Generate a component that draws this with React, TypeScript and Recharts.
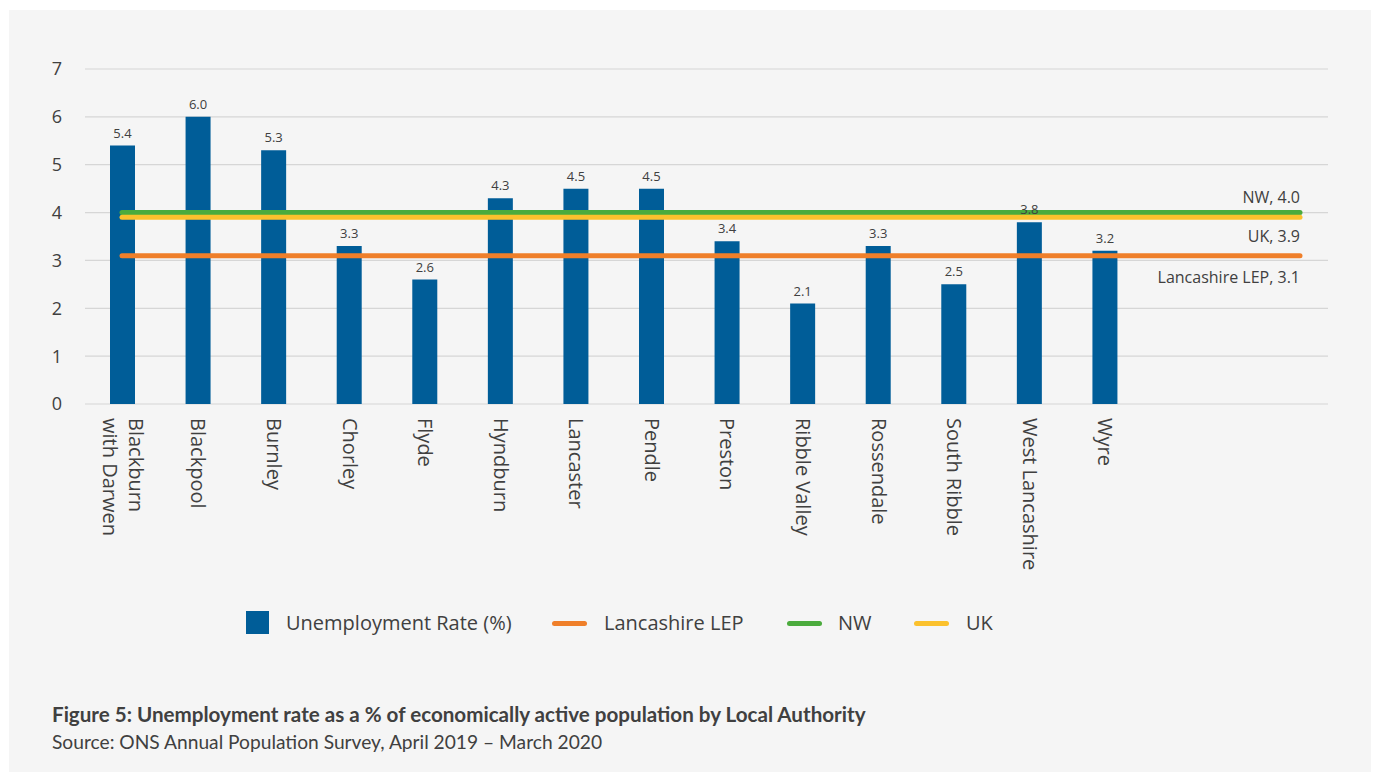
import React from 'react';
import {
  ComposedChart,
  Bar,
  Line,
  XAxis,
  YAxis,
  CartesianGrid,
  LabelList,
} from 'recharts';

const authorities = [
  'Blackburn with Darwen',
  'Blackpool',
  'Burnley',
  'Chorley',
  'Flyde',
  'Hyndburn',
  'Lancaster',
  'Pendle',
  'Preston',
  'Ribble Valley',
  'Rossendale',
  'South Ribble',
  'West Lancashire',
  'Wyre',
];

const unemploymentRate = [5.4, 6.0, 5.3, 3.3, 2.6, 4.3, 4.5, 4.5, 3.4, 2.1, 3.3, 2.5, 3.8, 3.2];

const yTicks = [0, 1, 2, 3, 4, 5, 6, 7];

// benchmark rates drawn as flat lines across the chart
const lepRate = 3.1;
const nwRate = 4.0;
const ukRate = 3.9;

const barData = authorities.map((name, i) => ({ name, rate: unemploymentRate[i] }));
const flat = (v: number) => [
  { t: 0, v },
  { t: 1, v },
];

const TEXT = '#404040';
const FONT = '"Open Sans", sans-serif';
const BLUE = '#005d98';
const ORANGE = '#ef7f2a';
const GREEN = '#4bab3d';
const YELLOW = '#fbc12d';

const CategoryTick = (props: any) => {
  const { x, y, payload } = props;
  const label: string = payload.value;
  const lines = label === 'Blackburn with Darwen' ? ['Blackburn', 'with Darwen'] : [label];
  const fs = 20;
  const step = 26;
  const y0 = y + 6;
  return (
    <g>
      {lines.map((ln, i) => {
        // positive dy moves the rotated line to the left
        const shiftLeft = (i - (lines.length - 1) / 2) * step;
        return (
          <text
            key={ln}
            x={x}
            y={y0}
            dy={fs * 0.35 + shiftLeft}
            transform={`rotate(90, ${x}, ${y0})`}
            textAnchor="start"
            fill={TEXT}
            fontSize={fs}
            fontFamily={FONT}
          >
            {ln}
          </text>
        );
      })}
    </g>
  );
};

const endLabel = (text: string, dy: number) => (props: any) => {
  const { x, y, index } = props;
  if (index !== 1) return null;
  return (
    <text x={x} y={y + dy} textAnchor="end" fill={TEXT} fontSize={16} fontFamily={FONT}>
      {text}
    </text>
  );
};

const legendItems = [
  { label: 'Unemployment Rate (%)', color: BLUE, kind: 'box', x: 246, tx: 286 },
  { label: 'Lancashire LEP', color: ORANGE, kind: 'line', x: 552, tx: 604 },
  { label: 'NW', color: GREEN, kind: 'line', x: 787, tx: 838 },
  { label: 'UK', color: YELLOW, kind: 'line', x: 914, tx: 966 },
];

export default function App() {
  return (
    <div style={{ position: 'absolute', left: 0, top: 0, width: 1379, height: 772, background: '#fff' }}>
      <div
        style={{
          position: 'absolute',
          left: 9,
          top: 10,
          width: 1362,
          height: 762,
          background: '#f5f5f5',
        }}
      />
      <div style={{ position: 'absolute', left: 0, top: 0 }}>
        <ComposedChart
          width={1379}
          height={600}
          data={barData}
          margin={{ top: 69, right: 51, left: 40, bottom: 0 }}
        >
          <CartesianGrid vertical={false} stroke="#d6d6d6" strokeWidth={1.2} />
          <XAxis
            dataKey="name"
            interval={0}
            height={196}
            axisLine={false}
            tickLine={false}
            padding={{ left: 0, right: 185 }}
            tick={<CategoryTick />}
          />
          <XAxis xAxisId="ref" type="number" dataKey="t" domain={[0, 1]} hide padding={{ left: 37, right: 28 }} />
          <YAxis
            domain={[0, 7]}
            ticks={yTicks}
            width={45}
            axisLine={false}
            tickLine={false}
            tickSize={0}
            tickMargin={23}
            tick={{ fill: TEXT, fontSize: 18, fontFamily: FONT }}
          />
          <Bar dataKey="rate" fill={BLUE} barSize={25} isAnimationActive={false}>
            <LabelList
              dataKey="rate"
              position="top"
              offset={8}
              formatter={(v: any) => Number(v).toFixed(1)}
              style={{ fill: TEXT, fontSize: 13, fontFamily: FONT }}
            />
          </Bar>
          <Line
            xAxisId="ref"
            data={flat(lepRate)}
            dataKey="v"
            stroke={ORANGE}
            strokeWidth={5}
            strokeLinecap="round"
            dot={false}
            activeDot={false}
            isAnimationActive={false}
            label={endLabel(`Lancashire LEP, ${lepRate.toFixed(1)}`, 27)}
          />
          <Line
            xAxisId="ref"
            data={flat(nwRate)}
            dataKey="v"
            stroke={GREEN}
            strokeWidth={5}
            strokeLinecap="round"
            dot={false}
            activeDot={false}
            isAnimationActive={false}
            label={endLabel(`NW, ${nwRate.toFixed(1)}`, -10)}
          />
          <Line
            xAxisId="ref"
            data={flat(ukRate)}
            dataKey="v"
            stroke={YELLOW}
            strokeWidth={5}
            strokeLinecap="round"
            dot={false}
            activeDot={false}
            isAnimationActive={false}
            label={endLabel(`UK, ${ukRate.toFixed(1)}`, 25)}
          />
        </ComposedChart>
      </div>

      {legendItems.map((it) => (
        <React.Fragment key={it.label}>
          {it.kind === 'box' ? (
            <div
              style={{ position: 'absolute', left: it.x, top: 611, width: 23, height: 23, background: it.color }}
            />
          ) : (
            <div
              style={{
                position: 'absolute',
                left: it.x,
                top: 621,
                width: 35,
                height: 5,
                borderRadius: 3,
                background: it.color,
              }}
            />
          )}
          <div
            style={{
              position: 'absolute',
              left: it.tx,
              top: 609,
              fontSize: 20,
              lineHeight: '28px',
              fontFamily: FONT,
              color: TEXT,
              whiteSpace: 'nowrap',
            }}
          >
            {it.label}
          </div>
        </React.Fragment>
      ))}

      <div
        style={{
          position: 'absolute',
          left: 52,
          top: 700,
          fontFamily: 'Lato, sans-serif',
          lineHeight: '28px',
          color: TEXT,
          whiteSpace: 'nowrap',
        }}
      >
        <div style={{ fontWeight: 700, fontSize: 20.6 }}>
          Figure 5: Unemployment rate as a % of economically active population by Local Authority
        </div>
        <div style={{ fontSize: 19.2 }}>Source: ONS Annual Population Survey, April 2019 – March 2020</div>
      </div>
    </div>
  );
}
